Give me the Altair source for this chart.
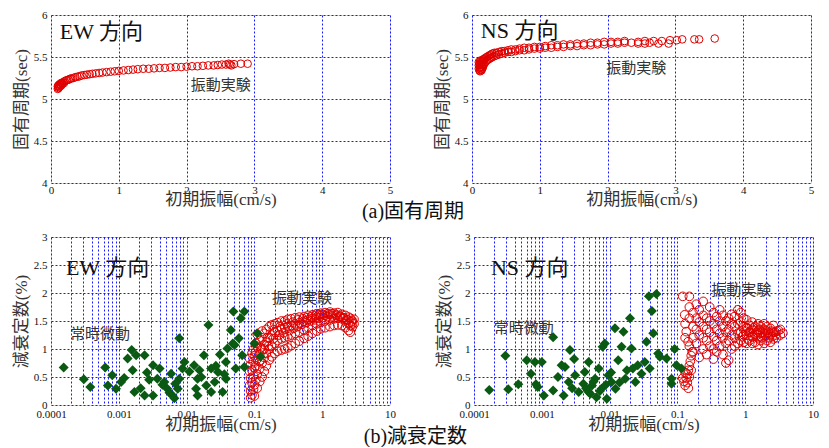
import altair as alt
import pandas as pd

# ---------------- data ----------------
# (a) natural period, EW, vibration test
ew_t_x = [0.10,0.10,0.11,0.11,0.12,0.12,0.13,0.13,0.14,0.15,0.15,0.16,0.17,0.18,0.19,0.20,0.22,0.24,0.26,0.28,
          0.30,0.33,0.36,0.39,0.42,0.45,0.49,0.53,0.57,0.61,0.66,0.71,0.76,0.82,0.88,0.94,1.00,1.07,1.14,1.21,
          1.28,1.36,1.44,1.52,1.60,1.68,1.76,1.84,1.92,2.00,2.08,2.16,2.24,2.32,2.40,2.46,2.52,2.58,2.62,2.64,
          2.66,2.70,2.80,2.90]
ew_t_y = [5.12,5.15,5.13,5.16,5.14,5.17,5.15,5.175,5.18,5.16,5.19,5.19,5.18,5.20,5.19,5.21,5.22,5.225,5.23,5.24,
          5.245,5.25,5.26,5.265,5.27,5.28,5.285,5.29,5.295,5.30,5.305,5.31,5.315,5.32,5.325,5.33,5.335,5.34,5.345,5.35,
          5.355,5.36,5.36,5.365,5.37,5.37,5.375,5.38,5.38,5.385,5.39,5.39,5.395,5.40,5.40,5.405,5.41,5.41,5.42,5.41,
          5.40,5.415,5.42,5.42]

# (a) natural period, NS, vibration test
ns_t_x = [0.10,0.10,0.10,0.11,0.11,0.11,0.12,0.12,0.12,0.12,0.13,0.13,0.13,0.14,0.14,0.14,0.15,0.15,0.15,0.16,
          0.16,0.17,0.17,0.18,0.18,0.20,0.20,0.22,0.22,0.24,0.24,0.26,0.26,0.28,0.28,0.30,0.30,0.33,0.33,0.36,
          0.36,0.40,0.40,0.44,0.44,0.48,0.48,0.53,0.53,0.58,0.58,0.64,0.64,0.70,0.70,0.77,0.77,0.84,0.84,0.92,
          0.92,1.00,1.00,1.08,1.08,1.17,1.17,1.26,1.26,1.35,1.35,1.45,1.45,1.55,1.55,1.65,1.65,1.75,1.75,1.85,
          1.85,1.95,1.95,2.05,2.05,2.15,2.15,2.25,2.25,2.35,2.45,2.45,2.55,2.55,2.62,2.68,2.75,2.80,2.90,2.92,
          3.02,3.10,3.28,3.35,3.58]
ns_t_y = [5.36,5.40,5.44,5.34,5.38,5.42,5.33,5.37,5.41,5.45,5.35,5.40,5.46,5.34,5.38,5.43,5.36,5.41,5.46,5.38,
          5.44,5.40,5.47,5.42,5.48,5.44,5.49,5.46,5.50,5.47,5.51,5.48,5.52,5.49,5.53,5.50,5.54,5.51,5.55,5.52,
          5.55,5.53,5.56,5.54,5.57,5.55,5.57,5.56,5.58,5.56,5.59,5.57,5.59,5.58,5.60,5.58,5.61,5.59,5.61,5.60,
          5.62,5.60,5.62,5.61,5.63,5.61,5.64,5.62,5.64,5.62,5.65,5.63,5.65,5.63,5.66,5.64,5.66,5.64,5.67,5.65,
          5.67,5.65,5.68,5.66,5.68,5.66,5.68,5.67,5.69,5.67,5.68,5.66,5.69,5.66,5.67,5.69,5.66,5.69,5.66,5.70,
          5.70,5.71,5.71,5.71,5.72]

# (b) damping, EW, vibration test
ew_d_x = [0.085,0.085,0.085,0.088,0.088,0.088,0.088,0.092,0.092,0.092,0.092,0.097,0.097,0.097,0.097,
          0.10,0.10,0.10,0.10,0.105,0.105,0.105,0.105,0.11,0.11,0.11,0.11,0.11,0.12,0.12,0.12,0.12,
          0.13,0.13,0.13,0.13,0.13,0.14,0.14,0.14,0.14,0.15,0.15,0.15,0.15,0.165,0.165,0.165,0.165,
          0.18,0.18,0.18,0.18,0.20,0.20,0.20,0.20,0.22,0.22,0.22,0.22,0.25,0.25,0.25,0.25,
          0.28,0.28,0.28,0.28,0.31,0.31,0.31,0.31,0.35,0.35,0.35,0.35,0.40,0.40,0.40,0.40,
          0.46,0.46,0.46,0.46,0.54,0.54,0.54,0.54,0.62,0.62,0.62,0.62,0.72,0.72,0.72,0.72,
          0.83,0.83,0.83,0.83,0.95,0.95,0.95,0.95,1.1,1.1,1.1,1.1,1.3,1.3,1.3,1.3,
          1.5,1.5,1.5,1.7,1.7,1.7,1.95,1.95,1.95,2.2,2.2,2.2,2.45,2.45,2.45,2.6,2.6,2.6,2.8,2.8,2.95,2.95,
          0.12,0.14,0.16,0.19,0.23,0.27,0.33,0.38,0.43,0.50,0.58,0.67,0.77,0.89,1.02,1.2,1.4,1.6,1.82,2.05,2.3,
          0.125,0.155,0.19,0.24,0.3,0.37,0.44,0.52,0.6,0.7,0.8,0.9,1.0,1.2,1.4,1.62,1.85,2.1,2.4,2.7]
ew_d_y = [0.35,0.60,0.83,0.13,0.25,0.48,0.72,0.18,0.40,0.62,0.92,0.28,0.52,0.78,1.00,
          0.16,0.36,0.66,0.88,0.45,0.70,0.95,1.10,0.30,0.55,0.82,1.05,1.26,0.42,0.65,0.90,1.15,
          0.50,0.75,0.98,1.20,1.32,0.60,0.85,1.08,1.28,0.70,0.92,1.12,1.35,0.80,1.00,1.20,1.40,
          0.86,1.05,1.25,1.43,0.92,1.10,1.30,1.45,0.96,1.15,1.33,1.47,0.98,1.18,1.36,1.50,
          1.00,1.20,1.38,1.50,1.02,1.22,1.40,1.53,1.06,1.25,1.42,1.54,1.10,1.28,1.45,1.56,
          1.14,1.30,1.47,1.57,1.19,1.34,1.50,1.58,1.23,1.38,1.52,1.60,1.28,1.42,1.55,1.61,
          1.32,1.45,1.57,1.63,1.36,1.48,1.59,1.64,1.38,1.50,1.60,1.65,1.40,1.52,1.62,1.66,
          1.42,1.54,1.64,1.43,1.55,1.65,1.42,1.54,1.62,1.38,1.50,1.60,1.33,1.46,1.57,1.30,1.42,1.55,1.40,1.50,1.45,1.53,
          0.78,1.0,1.05,1.18,1.25,1.29,1.33,1.37,1.40,1.44,1.47,1.50,1.52,1.55,1.56,1.58,1.59,1.60,1.59,1.56,1.52,
          1.02,1.2,1.34,1.40,1.45,1.48,1.52,1.54,1.56,1.58,1.60,1.61,1.62,1.63,1.63,1.61,1.58,1.55,1.52,1.48]

# (b) damping, EW, microtremor
ew_m_x = [0.000154,0.000305,0.00038,0.00063,0.0008,0.00069,0.00091,0.00108,0.00135,0.00155,0.0018,0.0024,
          0.0016,0.0017,0.0024,0.0032,0.0032,0.004,0.0037,0.0047,0.0052,0.0062,0.0059,0.0078,0.0087,0.0078,
          0.0093,0.0074,0.0129,0.0145,0.0138,0.0145,0.018,0.021,0.023,0.026,0.023,0.029,0.034,0.038,0.038,
          0.040,0.045,0.049,0.051,0.053,0.063,0.071,0.066,0.071,0.10,0.11,0.123,0.048,0.059,
          0.0021,0.0028,0.0044,0.0056,0.0068,0.011,0.0165,0.0195,0.027,0.031,0.0012,0.0026,0.0066,0.0155,0.036]
ew_m_y = [0.67,0.46,0.32,0.67,0.53,0.35,0.29,0.41,0.83,0.98,0.89,0.89,
          0.62,0.23,0.17,0.17,0.71,0.65,0.47,0.41,0.29,0.17,0.56,0.47,0.65,1.19,
          0.77,0.29,0.71,0.47,0.29,0.17,0.89,1.43,0.65,0.41,0.23,0.59,0.23,0.47,0.77,
          1.01,1.34,1.67,1.07,0.65,1.55,1.67,0.89,0.68,1.10,1.28,0.86,1.10,1.19,
          0.30,0.45,0.36,0.22,0.38,0.60,0.50,0.35,0.70,0.90,0.48,0.58,0.12,0.62,0.55]

# (b) damping, NS, vibration test
ns_d_x = [0.125,0.13,0.135,0.14,0.145,0.15,0.155,0.16,0.14,0.15,0.16,0.145,0.12,0.13,0.165,
          0.12,0.15,0.128,0.135,0.144,
          0.13,0.13,0.15,0.15,0.15,0.17,0.17,0.17,0.17,0.19,0.19,0.19,0.19,0.21,0.21,0.21,0.21,
          0.24,0.24,0.24,0.24,0.24,0.27,0.27,0.27,0.27,0.30,0.30,0.30,0.30,0.34,0.34,0.34,0.34,0.34,
          0.38,0.38,0.38,0.38,0.42,0.42,0.42,0.42,0.47,0.47,0.47,0.47,0.52,0.52,0.52,0.52,
          0.57,0.57,0.57,0.57,0.63,0.63,0.63,0.63,0.70,0.70,0.70,0.70,0.78,0.78,0.78,0.78,
          0.86,0.86,0.86,0.86,0.95,0.95,0.95,0.95,1.05,1.05,1.05,1.05,1.15,1.15,1.15,
          1.27,1.27,1.27,1.27,1.4,1.4,1.4,1.55,1.55,1.55,1.55,1.7,1.7,1.7,1.9,1.9,1.9,1.9,
          2.1,2.1,2.1,2.35,2.35,2.35,2.6,2.6,2.6,2.9,2.9,3.3,3.3,3.6,
          1.0,1.1,1.2,1.33,1.47,1.62,1.8,2.0,2.2,2.45,2.75,3.1,0.9,1.1,1.3,1.5,1.75,2.0,2.25,2.5,2.8]
ns_d_y = [0.42,0.35,0.48,0.55,0.62,0.70,0.78,0.88,0.40,0.50,0.62,0.30,0.48,0.58,0.95,
          1.94,1.94,1.61,1.31,1.13,
          1.20,1.45,1.05,1.55,1.75,0.95,1.20,1.40,1.65,1.10,1.35,1.55,1.80,0.85,1.25,1.48,1.70,
          1.00,1.20,1.40,1.60,1.85,0.90,1.15,1.35,1.55,1.05,1.30,1.50,1.75,0.82,1.00,1.22,1.45,1.65,
          0.95,1.15,1.35,1.58,1.05,1.28,1.50,1.70,0.90,1.20,1.40,1.60,0.75,1.10,1.30,1.50,
          0.80,1.15,1.35,1.55,1.00,1.25,1.45,1.62,1.05,1.20,1.40,1.58,1.10,1.28,1.45,1.70,
          1.15,1.30,1.48,1.65,1.12,1.25,1.40,1.55,1.10,1.25,1.38,1.52,1.15,1.30,1.42,
          1.10,1.22,1.35,1.48,1.12,1.27,1.40,1.08,1.20,1.33,1.45,1.15,1.28,1.40,1.10,1.22,1.35,1.45,
          1.15,1.28,1.40,1.12,1.25,1.37,1.18,1.30,1.42,1.20,1.32,1.25,1.35,1.28,
          1.32,1.36,1.30,1.38,1.30,1.35,1.30,1.33,1.30,1.32,1.30,1.33,1.22,1.18,1.22,1.25,1.20,1.24,1.20,1.22,1.25]

# (b) damping, NS, microtremor
ns_m_x = [0.000168,0.00029,0.00032,0.00045,0.0006,0.00069,0.00079,0.001,0.00082,0.00087,0.00107,0.00147,
          0.00147,0.00173,0.00196,0.0022,0.0021,0.0025,0.0026,0.003,0.0031,0.0035,0.0041,0.0043,0.0049,
          0.0049,0.0055,0.0061,0.0064,0.0069,0.0076,0.0079,0.0085,0.0091,0.0096,0.0107,0.012,0.0122,
          0.0134,0.015,0.016,0.017,0.020,0.021,0.022,0.024,0.026,0.0295,0.033,0.035,0.038,0.042,0.044,
          0.049,0.052,0.055,0.069,0.039,0.082,0.091,0.097,0.082,0.115,
          0.0045,0.0058,0.0072,0.0088,0.0105,0.014,0.018,0.0028,0.0052]
ns_m_y = [0.27,0.88,0.28,0.37,0.80,0.56,0.77,0.77,0.37,0.32,0.17,1.21,
          0.26,0.50,0.71,0.68,0.17,0.41,0.98,0.82,0.53,0.23,0.38,0.59,0.77,
          0.23,0.35,0.47,0.14,0.65,0.29,1.04,1.10,0.11,0.53,0.41,1.37,0.29,
          0.80,1.04,1.31,0.47,1.55,1.01,0.65,0.41,0.71,0.56,0.77,1.13,1.94,1.68,1.28,
          1.98,0.92,0.86,0.83,0.65,0.38,1.00,0.71,0.47,0.65,
          0.30,0.42,0.25,0.36,0.58,0.40,0.62,0.30,0.20]

# texts
title_a = "(a)固有周期"
title_b = "(b)減衰定数"
x_title = "初期振幅(cm/s)"
y_title_a = "固有周期(sec)"
y_title_b = "減衰定数(%)"
lbl_ew = "EW 方向"
lbl_ns = "NS 方向"
lbl_test = "振動実験"
lbl_micro = "常時微動"

# annotation anchor points (data coordinates)
ann_a_ew = {"big": (0.13, 5.71), "small": (2.06, 5.11)}
ann_a_ns = {"big": (0.13, 5.73), "small": (1.98, 5.31)}
ann_b_ew = {"big": (0.000166, 2.33), "micro": (0.00019, 1.17), "test": (0.182, 1.83)}
ann_b_ns = {"big": (0.000178, 2.33), "micro": (0.000196, 1.29), "test": (0.316, 1.97)}

# ---------------- styling ----------------
SERIF = "'Liberation Serif', 'Noto Sans CJK JP'"
CJK = "'Noto Sans CJK JP'"
BLUE = "#1a1aff"
RED = "#e00000"
GREEN = "#0a5a14"
W, H = 339, 168

lin_x_vals = [0.0, 1.0, 2.0, 3.0, 4.0, 5.0]
lin_y_vals = [4.0, 4.5, 5.0, 5.5, 6.0]
log_vals = [round(k * d, 6) for d in [0.0001, 0.001, 0.01, 0.1, 1] for k in range(1, 10)] + [10]
b_y_vals = [0.0, 0.5, 1.0, 1.5, 2.0, 2.5, 3.0]


def axis_common(**kw):
    return alt.Axis(grid=True, gridColor=BLUE, gridDash=[2, 2], gridWidth=1, gridOpacity=1,
                    domain=False, ticks=False, labelFont="'Liberation Serif'", labelFontSize=11,
                    labelColor="#111", labelOverlap=False, labelFlush=False,
                    titleFont=SERIF, titleFontSize=17, titleFontWeight="normal",
                    titleColor="#333", **kw)


def layered(xenc, yenc, layers):
    charts = []
    for df, mark in layers:
        charts.append(mark(alt.Chart(df)).encode(x=xenc, y=yenc))
    return charts


def txt(size, font, color):
    def f(c):
        return c.mark_text(align="left", baseline="alphabetic", fontSize=size, font=font,
                           color=color).encode(text="t:N")
    return f


def one(pt, label):
    return pd.DataFrame({"x": [pt[0]], "y": [pt[1]], "t": [label]})


def panel_a(xs, ys, big_lbl, ann):
    xenc = alt.X("x:Q", scale=alt.Scale(domain=[0, 5], nice=False, zero=False),
                 axis=axis_common(values=lin_x_vals, format="~g", title=x_title,
                                  labelPadding=1, titlePadding=-4))
    yenc = alt.Y("y:Q", scale=alt.Scale(domain=[4, 6], nice=False, zero=False),
                 axis=axis_common(values=lin_y_vals, format=".1~f", title=y_title_a,
                                  labelPadding=4, titlePadding=3))
    pts = lambda c: c.mark_point(shape="circle", filled=False, color=RED, size=58,
                                 strokeWidth=1, opacity=1)
    charts = layered(xenc, yenc, [
        (pd.DataFrame({"x": xs, "y": ys}), pts),
        (one(ann["big"], big_lbl), txt(22, SERIF, "#111")),
        (one(ann["small"], lbl_test), txt(15, CJK, "#333")),
    ])
    return alt.layer(*charts).properties(width=W, height=H)


def panel_b(rx, ry, gx, gy, big_lbl, ann):
    xenc = alt.X("x:Q", scale=alt.Scale(type="log", domain=[0.0001, 10], nice=False),
                 axis=axis_common(values=log_vals, title=x_title, labelPadding=3, titlePadding=-3,
                                  labelExpr="indexof([0.0001,0.001,0.01,0.1,1,10], datum.value) >= 0 ? format(datum.value, '') : ''"))
    yenc = alt.Y("y:Q", scale=alt.Scale(domain=[0, 3], nice=False, zero=False),
                 axis=axis_common(values=b_y_vals, format=".1~f", title=y_title_b,
                                  labelPadding=4, titlePadding=3))
    red = lambda c: c.mark_point(shape="circle", filled=False, color=RED, size=75,
                                 strokeWidth=1, opacity=1)
    green = lambda c: c.mark_point(shape="diamond", filled=True, color=GREEN, size=100, opacity=1)
    charts = layered(xenc, yenc, [
        (pd.DataFrame({"x": rx, "y": ry}), red),
        (pd.DataFrame({"x": gx, "y": gy}), green),
        (one(ann["big"], big_lbl), txt(22, SERIF, "#111")),
        (one(ann["micro"], lbl_micro), txt(15, CJK, "#333")),
        (one(ann["test"], lbl_test), txt(15, CJK, "#333")),
    ])
    return alt.layer(*charts).properties(width=W, height=H)


row_a = alt.hconcat(
    panel_a(ew_t_x, ew_t_y, lbl_ew, ann_a_ew),
    panel_a(ns_t_x, ns_t_y, lbl_ns, ann_a_ns),
    spacing=38,
    title=alt.TitleParams(title_a, orient="bottom", anchor="middle", font=SERIF, fontSize=20,
                          fontWeight="normal", color="#111", offset=-6),
)
row_b = alt.hconcat(
    panel_b(ew_d_x, ew_d_y, ew_m_x, ew_m_y, lbl_ew, ann_b_ew),
    panel_b(ns_d_x, ns_d_y, ns_m_x, ns_m_y, lbl_ns, ann_b_ns),
    spacing=38,
    title=alt.TitleParams(title_b, orient="bottom", anchor="middle", font=SERIF, fontSize=20,
                          fontWeight="normal", color="#111", offset=-6),
)

chart = alt.vconcat(row_a, row_b, spacing=8).properties(
    padding={"left": 3, "top": 0, "right": 2, "bottom": 0}
).configure_view(stroke=BLUE, strokeWidth=1.5).configure(background="white")

chart.save("out.html", embed_options={"renderer": "svg", "actions": False})
